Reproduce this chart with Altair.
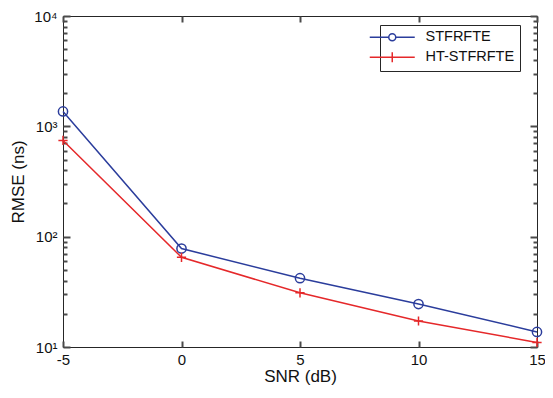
import altair as alt
import pandas as pd

snr = [-5, 0, 5, 10, 15]
stfrfte = [1365, 78, 42, 24.5, 13.7]
ht_stfrfte = [745, 65, 31, 17.2, 11.0]
series_names = ["STFRFTE", "HT-STFRFTE"]
colors = ["#2B3D9C", "#E5282A"]
x_ticks = [-5, 0, 5, 10, 15]
y_major = [10, 100, 1000, 10000]
y_minor = [k * 10 ** e for e in (1, 2, 3) for k in range(2, 10)]

df = pd.DataFrame({
    "snr": snr * 2,
    "rmse": stfrfte + ht_stfrfte,
    "series": [series_names[0]] * len(snr) + [series_names[1]] * len(snr),
})

FONT = "Liberation Sans"
AX = "#262626"
TK = "#4a4a4a"
TW = 2
xs = alt.Scale(domain=[-5, 15], nice=False, zero=False)
ys = alt.Scale(type="log", domain=[10, 10000], nice=False)

base = alt.Chart(df)

def ax_layer(xaxis, yaxis):
    return base.mark_point(opacity=0).encode(
        x=alt.X("snr:Q", scale=xs, axis=xaxis),
        y=alt.Y("rmse:Q", scale=ys, axis=yaxis),
    )

sup = "datum.value == 10 ? '10\u00b9' : datum.value == 100 ? '10\u00b2' : datum.value == 1000 ? '10\u00b3' : '10\u2074'"
xlab = "datum.value < 0 ? '-' + abs(datum.value) : '' + datum.value"

x_main = alt.Axis(values=x_ticks, orient="bottom", offset=-6, tickSize=6, domain=False, grid=False,
                  tickColor=TK, tickWidth=TW, labelPadding=5, labelFontSize=15, labelColor="#111", labelFont=FONT,
                  labelExpr=xlab,
                  title="SNR (dB)", titleFontSize=17, titleFont=FONT, titleFontWeight="normal",
                  titleColor="#111", titlePadding=1, labelFlush=False)
y_main = alt.Axis(values=y_major, orient="left", offset=-7, tickSize=7, domain=False, grid=False,
                  tickColor=TK, tickWidth=TW, labelPadding=6, labelFontSize=15, labelColor="#111", labelFont=FONT,
                  labelExpr=sup, title="RMSE (ns)", titleFontSize=17, titleFont=FONT,
                  titleFontWeight="normal", titleColor="#111", titlePadding=6, labelFlush=False)
y_minor_ax = alt.Axis(values=y_minor, orient="left", offset=-4, tickSize=4, domain=False, grid=False,
                      tickColor=TK, tickWidth=TW, labels=False, title=None)
x_top = alt.Axis(values=x_ticks, orient="top", offset=-6, tickSize=6, domain=False, grid=False,
                 tickColor=TK, tickWidth=TW, labels=False, title=None)
y_right = alt.Axis(values=y_major, orient="right", offset=-7, tickSize=7, domain=False, grid=False,
                   tickColor=TK, tickWidth=TW, labels=False, title=None)
y_right_minor = alt.Axis(values=y_minor, orient="right", offset=-4, tickSize=4, domain=False, grid=False,
                         tickColor=TK, tickWidth=TW, labels=False, title=None)

layers = [
    ax_layer(x_main, y_main),
    ax_layer(x_top, y_minor_ax),
    ax_layer(None, y_right),
    ax_layer(None, y_right_minor),
]

marker_shapes = ["circle", "M-1,0H1M0,-1V1"]
for name, col, shp in zip(series_names, colors, marker_shapes):
    sub = base.transform_filter(alt.datum.series == name)
    layers.append(sub.mark_line(color=col, strokeWidth=1.5).encode(
        x=alt.X("snr:Q", scale=xs, axis=None),
        y=alt.Y("rmse:Q", scale=ys, axis=None),
    ))
    layers.append(sub.mark_point(shape=shp, color=col, filled=False, size=85, strokeWidth=1.5, opacity=1).encode(
        x=alt.X("snr:Q", scale=xs, axis=None),
        y=alt.Y("rmse:Q", scale=ys, axis=None),
    ))

legend_paths = [
    "M-5.5,0M-4.5,0H-0.7M0.7,0H4.5M-0.7,0A0.7,0.7 0 1,1 0.7,0A0.7,0.7 0 1,1 -0.7,0",
    "M-5.5,0M-4.5,0H4.5M0,-1V1",
]
leg = alt.Legend(title=None, orient="none", legendX=317, legendY=9, strokeColor=AX, fillColor="white",
                 padding=5, labelFontSize=14.5, labelFont=FONT, labelColor="#111", symbolSize=100,
                 symbolStrokeWidth=1.5, labelOffset=26, rowPadding=5, symbolType="circle")
legend_layer = base.transform_filter("false").mark_point(filled=False, size=100, strokeWidth=1.5, opacity=1).encode(
    color=alt.Color("series:N", scale=alt.Scale(domain=series_names, range=colors), legend=leg),
    shape=alt.Shape("series:N", scale=alt.Scale(domain=series_names, range=legend_paths), legend=leg),
)
layers.append(legend_layer)

chart = alt.layer(*layers).resolve_axis(x="independent", y="independent").properties(
    width=474, height=331,
    background="white",
    autosize=alt.AutoSizeParams(type="none"),
    padding={"left": 55, "top": 8, "right": 8, "bottom": 43},
).configure_view(stroke=AX, strokeWidth=1)

chart.save("out.html", embed_options={"renderer": "svg", "actions": False})
